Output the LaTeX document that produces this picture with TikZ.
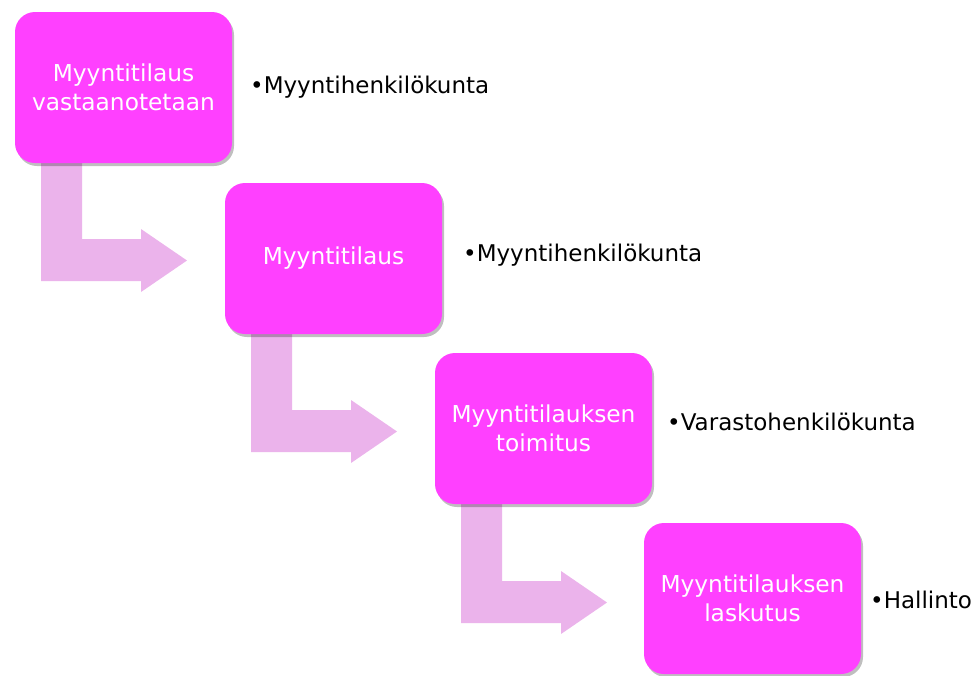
\documentclass[tikz,border=0pt]{standalone}
\usepackage{fontspec}
\setmainfont{DejaVu Sans}
\usetikzlibrary{shadows}
\definecolor{boxpink}{RGB}{255,64,255}
\definecolor{arrowpink}{RGB}{235,179,235}
\tikzset{
  stepbox/.style={rectangle, rounded corners=20pt, minimum width=217pt, minimum height=151pt,
    fill=boxpink, text=white, align=center, inner sep=0pt,
    font=\fontsize{23.3}{29}\selectfont,
    drop shadow={shadow xshift=2pt, shadow yshift=-3pt, opacity=0.25, fill=black}},
  rolelabel/.style={anchor=west, text=black, inner sep=0pt, font=\fontsize{23}{28}\selectfont},
  bentarrow/.style={fill=arrowpink, draw=none}
}
\begin{document}
\begin{tikzpicture}[x=1pt,y=-1pt]
\useasboundingbox (0,0) rectangle (975,675);
% bent arrows (behind boxes)
\foreach \dx/\dy in {0/0, 210/171, 420/342} {
  \begin{scope}[shift={(\dx,\dy)}]
    \fill[bentarrow] (41,150) -- (82,150) -- (82,239) -- (141,239) -- (141,229)
      -- (187,260.5) -- (141,292) -- (141,281) -- (41,281) -- cycle;
  \end{scope}
}
% boxes
\node[stepbox] (b1) at (123.5,87.5) {Myyntitilaus\\vastaanotetaan};
\node[stepbox] (b2) at (333.5,258.5) {Myyntitilaus};
\node[stepbox] (b3) at (543.5,428.5) {Myyntitilauksen\\toimitus};
\node[stepbox] (b4) at (752.5,598.5) {Myyntitilauksen\\laskutus};
% labels
\node[rolelabel] (l1) at (250,87) {•Myyntihenkilökunta};
\node[rolelabel] (l2) at (463,255) {•Myyntihenkilökunta};
\node[rolelabel] (l3) at (667,422) {•Varastohenkilökunta};
\node[rolelabel] (l4) at (870,600) {•Hallinto};
\end{tikzpicture}
\end{document}
